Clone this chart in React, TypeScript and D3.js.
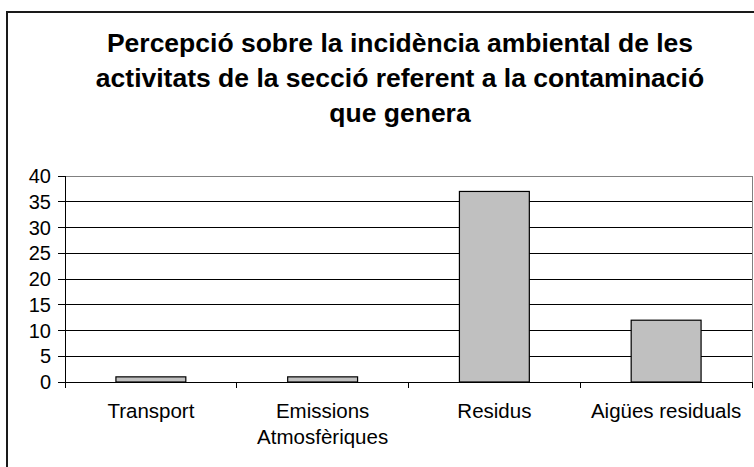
import React from "react";
import * as d3 from "d3";

const categories: string[][] = [["Transport"], ["Emissions", "Atmosfèriques"], ["Residus"], ["Aigües residuals"]];
const values: number[] = [1, 1, 37, 12];
const yTicks: number[] = [0, 5, 10, 15, 20, 25, 30, 35, 40];
const titleLines: string[] = [
  "Percepció sobre la incidència ambiental de les",
  "activitats de la secció referent a la contaminació",
  "que genera",
];

const W = 754;
const H = 467;
const left = 65;
const right = 752;
const top = 176;
const bottom = 382;

export default function App() {
  const keys = categories.map((c) => c.join(" "));
  const x = d3.scaleBand<string>().domain(keys).range([left, right]).paddingInner(0.593).paddingOuter(0.2965);
  const xb = d3.scaleBand<string>().domain(keys).range([left, right]);
  const y = d3.scaleLinear().domain([0, 40]).range([bottom, top]);
  const font = "'Liberation Sans', Arial, sans-serif";
  return (
    <svg width={W} height={H} style={{ position: "absolute", left: 0, top: 0, background: "#fff" }} fontFamily={font}>
      <rect x={7} y={12} width={W + 20} height={H + 20} fill="#fff" stroke="#1a1a1a" strokeWidth={2} />
      {titleLines.map((t, i) => (
        <text key={i} x={400} y={52 + i * 35} textAnchor="middle" fontSize={26.5} fontWeight="bold" fill="#000">
          {t}
        </text>
      ))}
      {/* plot border */}
      <rect x={left} y={top} width={right - left} height={bottom - top} fill="none" stroke="#808080" strokeWidth={1} shapeRendering="crispEdges" />
      {/* gridlines */}
      {yTicks.filter((t) => t > 0 && t < 40).map((t) => (
        <line key={t} x1={left} x2={right} y1={y(t)} y2={y(t)} stroke="#000" strokeWidth={1} shapeRendering="crispEdges" />
      ))}
      {/* bars */}
      {values.map((v, i) => (
        <rect key={i} x={x(keys[i])!} y={y(v)} width={x.bandwidth()} height={y(0) - y(v)} fill="#c0c0c0" stroke="#000" strokeWidth={1.2} />
      ))}
      {/* y axis */}
      <line x1={left} x2={left} y1={top} y2={bottom} stroke="#000" shapeRendering="crispEdges" />
      {yTicks.map((t) => (
        <g key={t}>
          <line x1={left - 7} x2={left} y1={y(t)} y2={y(t)} stroke="#000" shapeRendering="crispEdges" />
          <text x={left - 14} y={y(t)} dy="0.36em" textAnchor="end" fontSize={20} fill="#000">
            {t}
          </text>
        </g>
      ))}
      {/* x axis */}
      <line x1={left} x2={right} y1={bottom} y2={bottom} stroke="#000" shapeRendering="crispEdges" />
      {keys.map((k) => (
        <line key={k} x1={xb(k)!} x2={xb(k)!} y1={bottom} y2={bottom + 6} stroke="#000" shapeRendering="crispEdges" />
      ))}
      <line x1={right} x2={right} y1={bottom} y2={bottom + 6} stroke="#000" shapeRendering="crispEdges" />
      {categories.map((c, i) => (
        <text key={i} x={xb(keys[i])! + xb.bandwidth() / 2} y={418} textAnchor="middle" fontSize={20.5} fill="#000">
          {c.map((line, j) => (
            <tspan key={j} x={xb(keys[i])! + xb.bandwidth() / 2} dy={j === 0 ? 0 : 26}>
              {line}
            </tspan>
          ))}
        </text>
      ))}
    </svg>
  );
}
